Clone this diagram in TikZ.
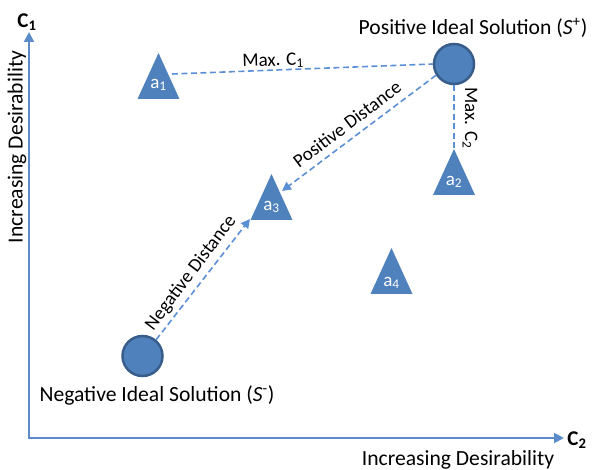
\documentclass[tikz,border=0pt]{standalone}
\usepackage{fontspec}
\setmainfont{Carlito}
\usetikzlibrary{arrows.meta,calc}
\definecolor{axiscol}{HTML}{5B8BC9}
\definecolor{fillcol}{HTML}{4F81BD}
\definecolor{edgecol}{HTML}{385D8A}
\definecolor{dashcol}{HTML}{5B8FD6}
\begin{document}
\begin{tikzpicture}[x=1pt,y=-1pt,
  axis/.style={draw=axiscol, line width=2pt},
  ideal/.style={circle, fill=fillcol, draw=edgecol, line width=2.5pt, minimum size=40pt, inner sep=0pt},
  dashline/.style={draw=dashcol, line width=1.6pt, dash pattern=on 6pt off 3.5pt},
  dasharrow/.style={dashline, -{Triangle[length=9pt,width=9pt]}},
  lbl/.style={font=\fontsize{21.6}{26}\selectfont, inner sep=0pt},
  boldlbl/.style={font=\fontsize{21}{25}\selectfont\bfseries, inner sep=0pt},
  small/.style={font=\fontsize{19}{22}\selectfont, inner sep=0pt},
  trilbl/.style={font=\fontsize{19}{22}\selectfont, text=white, inner sep=0pt},
  trifill/.style={fill=fillcol}]
\useasboundingbox (0,0) rectangle (592,470);

% axes
\coordinate (O) at (29,438);
\coordinate (ytop) at (29,32);
\coordinate (xend) at (564,438);
\draw[axis, {Triangle[length=10pt,width=10pt]}-{Triangle[length=10pt,width=10pt]}] (ytop) -- (O) -- (xend);
\node[boldlbl] (c1) at (27,22) {C\textsubscript{1}};
\node[boldlbl] (c2) at (577,440) {C\textsubscript{2}};
\node[lbl, rotate=90] (ylab) at (17,147) {Increasing Desirability};
\node[lbl] (xlab) at (458,460) {Increasing Desirability};

% ideal solutions
\node[ideal] (Sp) at (454,64) {};
\node[ideal] (Sm) at (142.5,356) {};
\node[lbl] (SpL) at (473,28) {Positive Ideal Solution (\textit{S}\textsuperscript{+})};
\node[lbl] (SmL) at (157,395) {Negative Ideal Solution (\textit{S}\textsuperscript{-})};

% alternatives
\coordinate (a1top) at (158.5,53);
\coordinate (a2top) at (454,149);
\coordinate (a3top) at (271.5,174);
\coordinate (a4top) at (391.5,248);
\foreach \t in {a1top,a2top,a3top,a4top}
  \fill[trifill] (\t) -- ++(21,46) -- ++(-42,0) -- cycle;
\node[trilbl] (a1) at ($(a1top)+(0,32)$) {a\textsubscript{1}};
\node[trilbl] (a2) at ($(a2top)+(0,33)$) {a\textsubscript{2}};
\node[trilbl] (a3) at ($(a3top)+(0,33)$) {a\textsubscript{3}};
\node[trilbl] (a4) at ($(a4top)+(0,35)$) {a\textsubscript{4}};

% connectors
\coordinate (a1e) at (172,74);
\coordinate (a3ne) at (282,191);
\coordinate (a3sw) at (250,219);
\draw[dashline] (a1e) -- (Sp.west);
\draw[dashline] (Sp.south) -- (a2top);
\draw[dasharrow] (Sp.212) -- (a3ne);
\draw[dasharrow] (Sm.50) -- (a3sw);

\node[small, rotate=1.8] (m1) at (273,61) {Max. C\textsubscript{1}};
\node[small, rotate=-90] (m2) at (470,118) {Max. C\textsubscript{2}};
\node[small, rotate=37] (pd) at (347,124) {Positive Distance};
\node[small, rotate=53] (nd) at (191,273) {Negative Distance};
\end{tikzpicture}
\end{document}
